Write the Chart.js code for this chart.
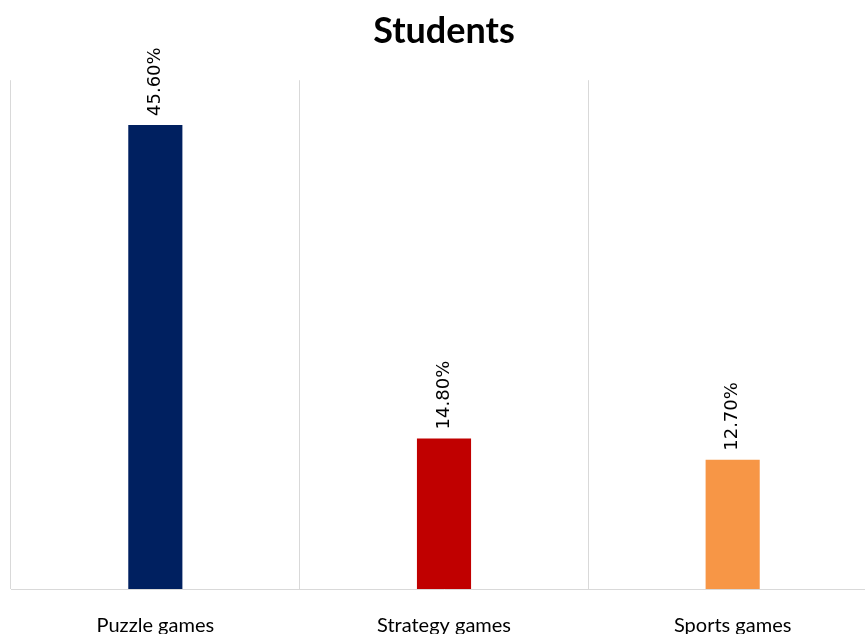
<!DOCTYPE html>
<html>
<head>
<meta charset="utf-8">
<script src="https://cdn.jsdelivr.net/npm/chart.js@4"></script>
<style>
  html, body { margin: 0; padding: 0; background: #fff; overflow: hidden; }
  #wrap { width: 888px; height: 634px; }
</style>
</head>
<body>
<div id="wrap"><canvas id="myChart" width="888" height="634"></canvas></div>
<script>
// Catégories et valeurs (%)
var categories = ['Puzzle games', 'Strategy games', 'Sports games'];
var values = [45.6, 14.8, 12.7];
var barColors = ['#002060', '#C00000', '#F79646'];

// Étiquettes verticales au-dessus des barres
var valueLabels = {
  id: 'valueLabels',
  afterDatasetsDraw: function (chart) {
    var ctx = chart.ctx;
    var meta = chart.getDatasetMeta(0);
    ctx.save();
    ctx.font = '18px "DejaVu Sans"';
    ctx.fillStyle = '#000';
    ctx.textAlign = 'left';
    ctx.textBaseline = 'middle';
    meta.data.forEach(function (bar, i) {
      ctx.save();
      ctx.translate(bar.x, bar.y - 9);
      ctx.rotate(-Math.PI / 2);
      ctx.fillText(values[i].toFixed(2) + '%', 0, 0);
      ctx.restore();
    });
    ctx.restore();
  }
};

var ctx = document.getElementById('myChart').getContext('2d');
var myChart = new Chart(ctx, {
  type: 'bar',
  data: {
    labels: categories,
    datasets: [{
      label: 'Students',
      data: values,
      backgroundColor: barColors,
      barPercentage: 0.75,
      categoryPercentage: 0.25
    }]
  },
  options: {
    responsive: false,
    animation: false,
    layout: { padding: { left: 11, right: 11, top: 0, bottom: -29 } },
    plugins: {
      legend: { display: false },
      tooltip: { enabled: false },
      title: {
        display: true,
        text: 'Students',
        color: '#000',
        font: { family: 'Lato', size: 36, weight: 'bold' },
        padding: { top: 10, bottom: 27 }
      }
    },
    scales: {
      x: {
        grid: { color: '#d9d9d9', drawTicks: false, offset: true },
        border: { color: '#d9d9d9' },
        ticks: { color: '#000', padding: 25, font: { family: 'Lato', size: 20 } }
      },
      y: {
        display: false,
        min: 0,
        max: 50
      }
    }
  },
  plugins: [valueLabels]
});
</script>
</body>
</html>
